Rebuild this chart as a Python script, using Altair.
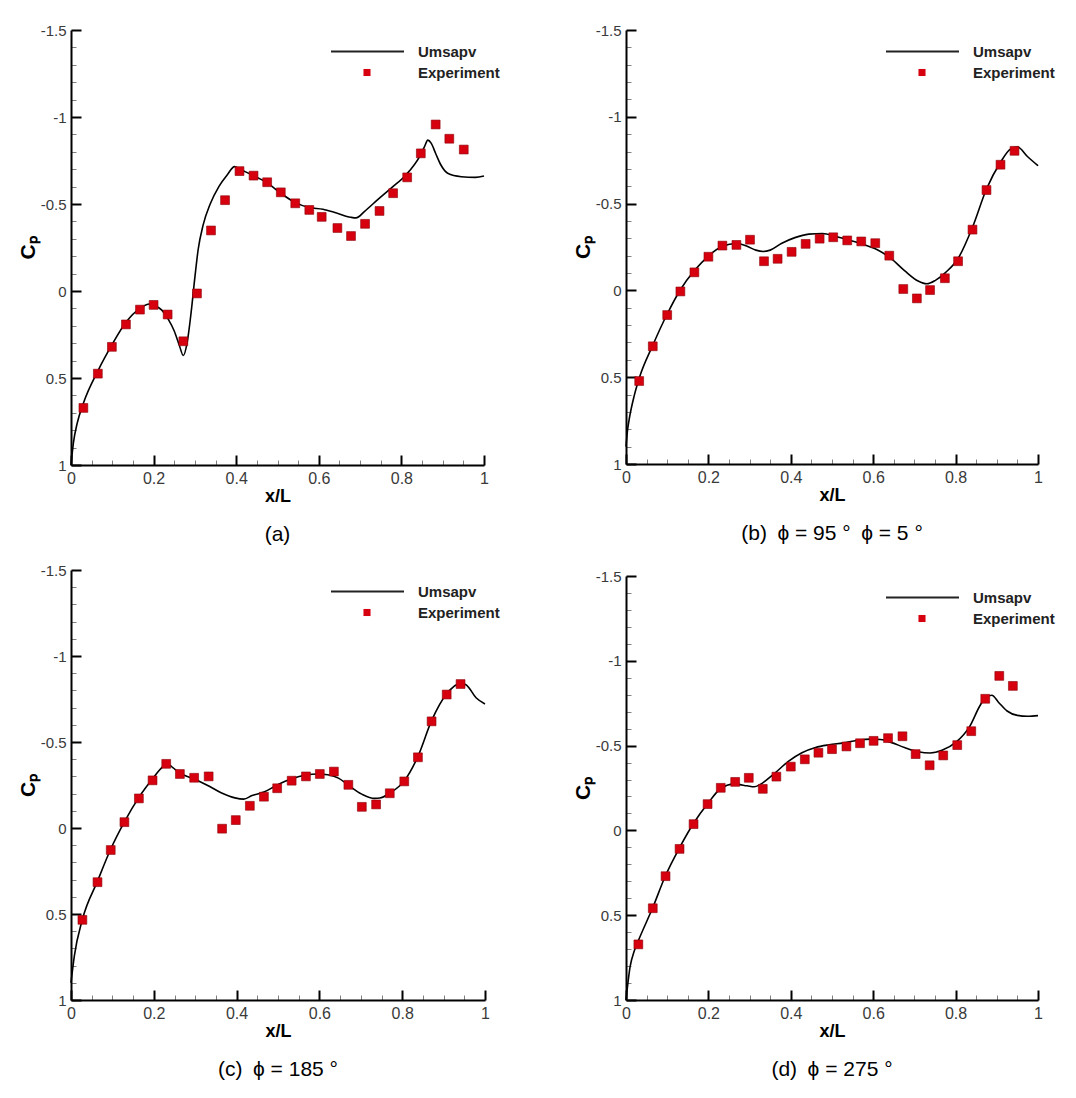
import altair as alt
import pandas as pd

# ---------------- data ----------------
SP = "\u2002"
captions = ["(a)",
            "(b)" + SP + "ϕ = 95 °" + SP + "ϕ = 5 °",
            "(c)" + SP + "ϕ = 185 °",
            "(d)" + SP + "ϕ = 275 °"]
legend_labels = ["Umsapv", "Experiment"]

# panel (a)
a_exp_x = [0.030, 0.065, 0.099, 0.133, 0.167, 0.200, 0.234, 0.272, 0.305, 0.339, 0.373, 0.408, 0.442, 0.475,
           0.508, 0.543, 0.577, 0.607, 0.645, 0.678, 0.712, 0.747, 0.780, 0.814, 0.847, 0.883, 0.916, 0.951]
a_exp_cp = [0.672, 0.475, 0.321, 0.192, 0.107, 0.080, 0.135, 0.289, 0.014, -0.348, -0.522, -0.689, -0.663, -0.625,
            -0.567, -0.504, -0.466, -0.426, -0.362, -0.316, -0.386, -0.460, -0.562, -0.653, -0.791, -0.957, -0.875, -0.813]
a_line_x = [0, 0.006, 0.015, 0.03, 0.065, 0.099, 0.133, 0.167, 0.19, 0.2, 0.22, 0.235, 0.25, 0.262, 0.272, 0.281,
            0.291, 0.3, 0.308, 0.32, 0.337, 0.358, 0.379, 0.396, 0.409, 0.442, 0.476, 0.509, 0.543, 0.577, 0.61,
            0.643, 0.677, 0.69, 0.711, 0.744, 0.778, 0.811, 0.845, 0.856, 0.864, 0.872, 0.883, 0.895, 0.912, 0.945,
            0.979, 1.0]
a_line_cp = [1.0, 0.87, 0.76, 0.645, 0.46, 0.31, 0.18, 0.10, 0.075, 0.082, 0.11, 0.16, 0.23, 0.31, 0.371, 0.30,
             0.12, -0.08, -0.24, -0.38, -0.50, -0.60, -0.67, -0.715, -0.70, -0.663, -0.62, -0.56, -0.508, -0.48,
             -0.47, -0.448, -0.424, -0.42, -0.458, -0.528, -0.597, -0.667, -0.777, -0.83, -0.867, -0.85, -0.79,
             -0.727, -0.677, -0.657, -0.653, -0.661]

# panel (b)
b_exp_x = [0.032, 0.065, 0.100, 0.132, 0.166, 0.200, 0.234, 0.268, 0.301, 0.335, 0.368, 0.402, 0.436, 0.470,
           0.503, 0.537, 0.571, 0.605, 0.639, 0.673, 0.706, 0.738, 0.774, 0.806, 0.841, 0.875, 0.909, 0.943]
b_exp_cp = [0.522, 0.322, 0.142, 0.006, -0.104, -0.194, -0.258, -0.262, -0.292, -0.168, -0.182, -0.222, -0.268,
            -0.298, -0.306, -0.288, -0.282, -0.272, -0.200, -0.008, 0.046, -0.002, -0.070, -0.168, -0.350, -0.578,
            -0.724, -0.804]
b_line_x = [0, 0.004, 0.0075, 0.02, 0.032, 0.065, 0.1, 0.132, 0.166, 0.2, 0.234, 0.268, 0.294, 0.315, 0.333, 0.35,
            0.377, 0.41, 0.444, 0.477, 0.51, 0.543, 0.576, 0.61, 0.643, 0.676, 0.709, 0.73, 0.751, 0.776, 0.806,
            0.841, 0.875, 0.909, 0.933, 0.95, 0.975, 1.0]
b_line_cp = [0.9, 0.8, 0.746, 0.606, 0.506, 0.316, 0.136, -0.004, -0.114, -0.198, -0.254, -0.27, -0.254, -0.232,
             -0.224, -0.232, -0.27, -0.304, -0.324, -0.328, -0.31, -0.288, -0.264, -0.234, -0.184, -0.114, -0.054,
             -0.038, -0.058, -0.104, -0.184, -0.364, -0.584, -0.738, -0.814, -0.826, -0.77, -0.718]

# panel (c)
c_exp_x = [0.0275, 0.064, 0.096, 0.129, 0.164, 0.197, 0.230, 0.263, 0.2975, 0.3325, 0.365, 0.398, 0.432, 0.466,
           0.498, 0.533, 0.5675, 0.601, 0.635, 0.670, 0.7025, 0.737, 0.770, 0.805, 0.838, 0.871, 0.9075, 0.941]
c_exp_cp = [0.534, 0.315, 0.128, -0.034, -0.172, -0.277, -0.373, -0.314, -0.292, -0.300, 0.004, -0.046, -0.129,
            -0.182, -0.231, -0.275, -0.300, -0.314, -0.328, -0.251, -0.123, -0.137, -0.202, -0.271, -0.411, -0.620,
            -0.776, -0.837]
c_line_x = [0, 0.008, 0.0275, 0.064, 0.096, 0.129, 0.164, 0.197, 0.221, 0.232, 0.246, 0.263, 0.296, 0.329, 0.3625,
            0.396, 0.417, 0.4375, 0.466, 0.498, 0.533, 0.5675, 0.596, 0.62, 0.646, 0.67, 0.7025, 0.733, 0.746, 0.77,
            0.805, 0.838, 0.871, 0.9075, 0.941, 0.954, 0.979, 1.0]
c_line_cp = [0.9, 0.745, 0.532, 0.309, 0.122, -0.036, -0.178, -0.286, -0.355, -0.375, -0.351, -0.32, -0.286,
             -0.249, -0.205, -0.175, -0.168, -0.189, -0.209, -0.25, -0.286, -0.308, -0.314, -0.31, -0.29, -0.249,
             -0.197, -0.172, -0.174, -0.203, -0.274, -0.416, -0.624, -0.78, -0.841, -0.833, -0.756, -0.721]

# panel (d)
d_exp_x = [0.030, 0.065, 0.096, 0.130, 0.164, 0.198, 0.230, 0.265, 0.298, 0.332, 0.365, 0.400, 0.434, 0.467,
           0.500, 0.535, 0.568, 0.601, 0.636, 0.671, 0.703, 0.737, 0.770, 0.804, 0.838, 0.872, 0.906, 0.939]
d_exp_cp = [0.672, 0.459, 0.270, 0.109, -0.037, -0.155, -0.251, -0.286, -0.310, -0.245, -0.317, -0.376, -0.419,
            -0.458, -0.479, -0.495, -0.514, -0.528, -0.544, -0.555, -0.450, -0.384, -0.442, -0.503, -0.585, -0.776,
            -0.911, -0.852]
d_line_x = [0, 0.01, 0.02, 0.03, 0.065, 0.096, 0.13, 0.164, 0.198, 0.23, 0.261, 0.294, 0.311, 0.327, 0.36, 0.394,
            0.427, 0.46, 0.493, 0.527, 0.56, 0.593, 0.618, 0.643, 0.676, 0.709, 0.738, 0.767, 0.801, 0.834, 0.859,
            0.872, 0.888, 0.904, 0.925, 0.95, 0.975, 1.0]
d_line_cp = [1.0, 0.803, 0.711, 0.65, 0.455, 0.266, 0.102, -0.042, -0.157, -0.247, -0.273, -0.263, -0.257, -0.273,
             -0.335, -0.407, -0.458, -0.489, -0.505, -0.516, -0.53, -0.538, -0.536, -0.519, -0.489, -0.464, -0.456,
             -0.472, -0.52, -0.612, -0.735, -0.782, -0.797, -0.756, -0.704, -0.678, -0.673, -0.677]

# ---------------- styling ----------------
FONT = "Liberation Sans"
x_ticks = [round(i * 0.05, 2) for i in range(21)]        # major every 0.2, minor every 0.05
y_ticks = [round(-1.5 + i * 0.1, 2) for i in range(26)]  # major every 0.5, minor every 0.1

X_MAJOR_TEST = "abs(datum.value*5 - round(datum.value*5)) < 0.001"
Y_MAJOR_TEST = "abs(datum.value*2 - round(datum.value*2)) < 0.001"


def cond(test, major, minor):
    return {"condition": {"test": test, "value": major}, "value": minor}


def axis(orient, values, test, title, label_size, title_size, title_pad):
    return alt.Axis(
        orient=orient, values=values, grid=False, labelFlush=False, labelOverlap=False,
        labelExpr="(" + test + ") ? toString(datum.value) : ''",
        labelFontSize=label_size, labelColor="#3a3a3a", labelPadding=15, labelFont=FONT,
        domainColor="black", domainWidth=2,
        ticks=True, tickSize=alt.ExprRef(expr="-10"),
        tickDash=cond(test, [12, 0], [5, 30]),
        tickWidth=cond(test, 2, 1),
        tickColor=cond(test, "black", "#808080"),
        title=title, titleFont=FONT, titleFontSize=title_size, titleFontWeight="bold", titleColor="black",
        titlePadding=title_pad)


X_AXIS = axis("bottom", x_ticks, X_MAJOR_TEST, "x/L", 16, 18, 1)
Y_AXIS = axis("left", y_ticks, Y_MAJOR_TEST, "Cₚ", 15, 21, 2)


def panel(line_x, line_cp, exp_x, exp_cp, caption, W, H):
    line_df = pd.DataFrame({"x": line_x, "cp": line_cp})
    exp_df = pd.DataFrame({"x": exp_x, "cp": exp_cp})
    xs = alt.Scale(domain=[0, 1], nice=False, zero=False)
    ys = alt.Scale(domain=[-1.5, 1], reverse=True, nice=False, zero=False)

    line = alt.Chart(line_df).mark_line(color="black", strokeWidth=1.6, interpolate="monotone").encode(
        x=alt.X("x:Q", scale=xs, axis=X_AXIS),
        y=alt.Y("cp:Q", scale=ys, axis=Y_AXIS),
    )
    pts = alt.Chart(exp_df).mark_square(size=78, filled=True, color="#d7000f", stroke="#8a0008",
                                        strokeWidth=0.6, opacity=1).encode(
        x=alt.X("x:Q", scale=xs, axis=X_AXIS),
        y=alt.Y("cp:Q", scale=ys, axis=Y_AXIS),
    )

    leg_line = alt.Chart(pd.DataFrame({"label": [legend_labels[0]]})).mark_rule(
        color="#222222", strokeWidth=1.8).encode(x=alt.value(260), x2=alt.value(333), y=alt.value(21.5))
    leg_sq = alt.Chart(pd.DataFrame({"label": [legend_labels[1]]})).mark_square(
        size=50, filled=True, color="#d7000f", opacity=1).encode(x=alt.value(296), y=alt.value(42.5))
    leg_t1 = alt.Chart(pd.DataFrame({"label": [legend_labels[0]]})).mark_text(
        align="left", baseline="middle", font=FONT, fontSize=15, fontWeight="bold", color="#222222").encode(
        text="label:N", x=alt.value(347), y=alt.value(21.5))
    leg_t2 = alt.Chart(pd.DataFrame({"label": [legend_labels[1]]})).mark_text(
        align="left", baseline="middle", font=FONT, fontSize=15, fontWeight="bold", color="#222222").encode(
        text="label:N", x=alt.value(347), y=alt.value(42.5))

    return alt.layer(line, pts, leg_line, leg_sq, leg_t1, leg_t2).properties(
        width=W, height=H,
        title=alt.TitleParams(text=caption, orient="bottom", anchor="middle", fontSize=21, fontWeight="normal",
                              font=FONT, color="black", offset=19))


pa = panel(a_line_x, a_line_cp, a_exp_x, a_exp_cp, captions[0], 413, 435)
pb = panel(b_line_x, b_line_cp, b_exp_x, b_exp_cp, captions[1], 412, 434)
pc = panel(c_line_x, c_line_cp, c_exp_x, c_exp_cp, captions[2], 414, 430)
pd_ = panel(d_line_x, d_line_cp, d_exp_x, d_exp_cp, captions[3], 412, 424)

left = alt.vconcat(pa, pc, spacing=16)
right = alt.vconcat(pb, pd_, spacing=23)
chart = alt.hconcat(left, right, spacing=70).properties(
    padding={"left": 8, "top": 14, "right": 5, "bottom": 5},
    background="white",
).configure_view(stroke="transparent")

chart.save("out.html", embed_options={"renderer": "svg", "actions": False})
